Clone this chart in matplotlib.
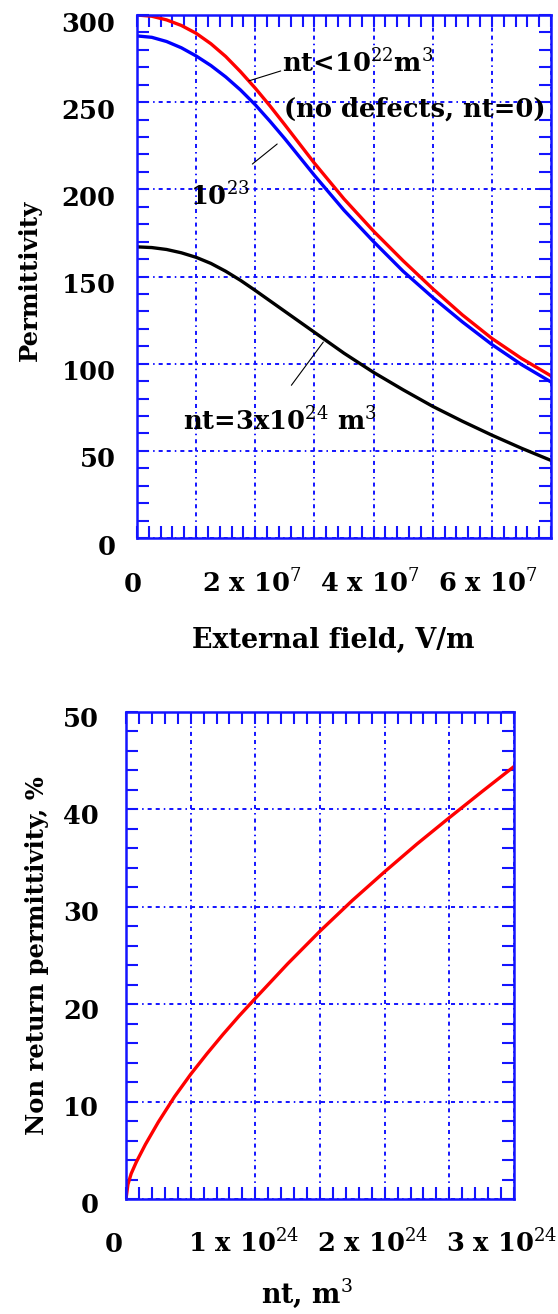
#Permittivity vs external field, and non return permittivity vs nt
import numpy as np
import matplotlib
matplotlib.use('Agg')
import matplotlib.pyplot as plt
from matplotlib.ticker import MultipleLocator
from matplotlib.transforms import ScaledTranslation

#DATA
field = [0.0, 0.25e7, 0.5e7, 0.75e7, 1.0e7, 1.25e7, 1.5e7, 1.75e7, 2.0e7, 2.25e7,
         2.5e7, 2.75e7, 3.0e7, 3.5e7, 4.0e7, 4.5e7, 5.0e7, 5.5e7, 6.0e7, 6.5e7, 7.0e7]
perm_nt0 = [300, 299.3, 297.2, 294, 289.5, 283.5, 276.2, 267.5, 258, 247.8,
            237, 226, 215, 194.5, 176, 159, 143, 128, 114.5, 103, 93]
perm_nt1e23 = [288, 287.2, 284.8, 281.2, 276.5, 271, 264.5, 257, 248.5, 239,
               229, 218.5, 208, 188, 170, 153, 138, 124, 111, 99.5, 89.5]
perm_nt3e24 = [167, 166.6, 165.5, 163.6, 161, 157.5, 153, 147.8, 142, 136,
               130, 124, 118, 106, 95, 85, 75.5, 67, 59, 51.5, 44.5]

field_ticks = [0, 1e7, 2e7, 3e7, 4e7, 5e7, 6e7, 7e7]
field_labels = ['0', '', '2 x 10$^{7}$', '', '4 x 10$^{7}$', '', '6 x 10$^{7}$', '']
perm_ticks = [0, 50, 100, 150, 200, 250, 300]

nt = [0.0, 0.015e24, 0.04e24, 0.08e24, 0.15e24, 0.25e24, 0.375e24, 0.5e24, 0.625e24,
      0.75e24, 0.875e24, 1.0e24, 1.25e24, 1.5e24, 1.75e24, 2.0e24, 2.25e24, 2.5e24,
      2.75e24, 3.0e24]
nonreturn = [0, 1.5, 2.6, 3.8, 5.6, 7.9, 10.5, 12.8, 14.9,
             16.9, 18.8, 20.6, 24.15, 27.5, 30.65, 33.6, 36.45, 39.15,
             41.8, 44.4]

nt_ticks = [0, 0.5e24, 1e24, 1.5e24, 2e24, 2.5e24, 3e24]
nt_labels = ['0', '', '1 x 10$^{24}$', '', '2 x 10$^{24}$', '', '3 x 10$^{24}$']
pct_ticks = [0, 10, 20, 30, 40, 50]

BLUE = '#1414ff'
plt.rcParams['font.family'] = 'DejaVu Serif'
plt.rcParams['axes.labelweight'] = 'bold'
plt.rcParams['mathtext.fontset'] = 'dejavuserif'
plt.rcParams['lines.scale_dashes'] = False
GRID_DASH = (0, (2.9, 2.9, 2.9, 2.9, 1.1, 2.9))


def style_axes(ax, minor_x, minor_y, ypad):
#blue frame, inward ticks on all sides and the dash-dot blue grid
    for s in ax.spines.values():
        s.set_color(BLUE)
        s.set_linewidth(1.8)
    ax.xaxis.set_minor_locator(MultipleLocator(minor_x))
    ax.yaxis.set_minor_locator(MultipleLocator(minor_y))
    ax.tick_params(which='both', direction='in', top=True, right=True,
                   color=BLUE, width=1.5, length=8.5, labelsize=18.5)
    ax.tick_params(axis='y', pad=ypad)
    ax.grid(True, which='major', color=BLUE, lw=1.4, ls=GRID_DASH)


def shift_ticklabels(fig, ax, xdx, xpad, ydy):
#old plotting program puts the tick labels a bit off the grid lines
    ax.tick_params(axis='x', pad=xpad)
    xoff = ScaledTranslation(xdx, 0, fig.dpi_scale_trans)
    for lbl in ax.get_xticklabels():
        lbl.set_va('baseline')
        lbl.set_fontweight('bold')
        lbl.set_transform(lbl.get_transform() + xoff)
    yoff = ScaledTranslation(0, ydy, fig.dpi_scale_trans)
    for lbl in ax.get_yticklabels():
        lbl.set_fontweight('bold')
        lbl.set_transform(lbl.get_transform() + yoff)


fig = plt.figure(figsize=(5.58, 13.14), dpi=100)

#top plot
ax1 = fig.add_axes([0.2455, 0.59056, 0.742, 0.39802])
ax1.plot(field, perm_nt3e24, color='black', lw=2.4)
ax1.plot(field, perm_nt1e23, color='#0000ff', lw=2.4)
ax1.plot(field, perm_nt0, color='#ff0000', lw=2.4)
ax1.set_xlim(0, 7e7)
ax1.set_ylim(0, 300)
ax1.set_xticks(field_ticks, labels=field_labels)
ax1.set_yticks(perm_ticks)
style_axes(ax1, 2e6, 10, 15.5)
shift_ticklabels(fig, ax1, -0.04, 39, -0.065)

ax1.set_xlabel('External field, V/m', fontsize=19.4)
ax1.xaxis.set_label_coords(0.473, -0.2103)
ax1.xaxis.label.set_va('baseline')
ax1.set_ylabel('Permittivity', fontsize=17.5)
ax1.yaxis.set_label_coords(-0.2408, 0.493)
ax1.yaxis.label.set_va('baseline')

lead = dict(arrowstyle='-', color='black', lw=0.8, shrinkA=0, shrinkB=0)
ax1.annotate('', xy=(1.89e7, 262.2), xytext=(2.43e7, 267.9), arrowprops=lead)
ax1.text(2.46e7, 267, 'nt<10$^{22}$m$^{3}$', fontsize=18.5, fontweight='bold', va='baseline')
ax1.text(2.49e7, 242, '(no defects, nt=0)', fontsize=18.5, fontweight='bold', va='baseline')
ax1.annotate('', xy=(2.37e7, 226), xytext=(1.95e7, 214.5), arrowprops=lead)
ax1.text(0.9e7, 190.6, '10$^{23}$', fontsize=18.5, fontweight='bold', va='baseline')
ax1.annotate('', xy=(3.15e7, 112.4), xytext=(2.61e7, 87.6), arrowprops=lead)
ax1.text(0.78e7, 61.8, 'nt=3x10$^{24}$ m$^{3}$', fontsize=18.5, fontweight='bold', va='baseline')

#bottom plot
ax2 = fig.add_axes([0.2258, 0.08752, 0.6953, 0.37062])
ax2.plot(nt, nonreturn, color='#ff0000', lw=2.4)
ax2.set_xlim(0, 3e24)
ax2.set_ylim(0, 50)
ax2.set_xticks(nt_ticks, labels=nt_labels)
ax2.set_yticks(pct_ticks)
style_axes(ax2, 1e23, 2, 19.5)
shift_ticklabels(fig, ax2, -0.12, 38, -0.045)

ax2.set_xlabel('nt, m$^{3}$', fontsize=19.4)
ax2.xaxis.set_label_coords(0.467, -0.2136)
ax2.xaxis.label.set_va('baseline')
ax2.set_ylabel('Non return permittivity, %', fontsize=17.5)
ax2.yaxis.set_label_coords(-0.2103, 0.5)
ax2.yaxis.label.set_va('baseline')

fig.savefig('out.png', dpi=100)
